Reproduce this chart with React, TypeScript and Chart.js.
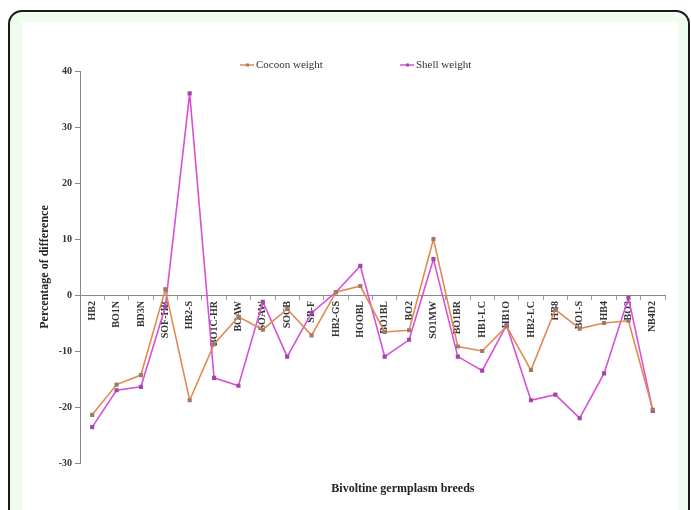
import { useEffect, useRef } from "react";
import { Chart, registerables } from "chart.js";

Chart.register(...registerables);

const categories = [
  "HB2", "BO1N", "BD3N", "SOF-HB", "HB2-S", "BO1C-HR", "BOAW", "SOAW",
  "SOCB", "SB-F", "HB2-GS", "HOOBL", "BO1BL", "BO2", "SO1MW", "BO1BR",
  "HB1-LC", "HB1O", "HB2-LC", "HB8", "BO1-S", "HB4", "BO3", "NB4D2",
];

const cocoonWeight = [
  -21.4, -16, -14.3, 1, -18.8, -8.8, -3.9, -6.2,
  -2.5, -7.2, 0.5, 1.6, -6.6, -6.3, 10, -9.2,
  -10, -5.6, -13.4, -2.6, -6, -5, -4.6, -20.5,
];

const shellWeight = [
  -23.6, -17, -16.4, -2.1, 36, -14.8, -16.2, -1.2,
  -11, -3.2, 0.5, 5.2, -11, -8, 6.4, -11,
  -13.5, -5.4, -18.8, -17.8, -22, -14, -0.5, -20.7,
];

const yMin = -30;
const yMax = 40;
const yStep = 10;

const seriesNames = ["Cocoon weight", "Shell weight"];
const yTitle = "Percentage of difference";
const xTitle = "Bivoltine germplasm breeds";

const SERIF = '"Liberation Serif", "Times New Roman", serif';

const decorPlugin = {
  id: "decor",
  afterDraw(chart: any) {
    const { ctx, chartArea } = chart;
    ctx.save();
    // x-axis title
    ctx.font = `bold 12px ${SERIF}`;
    ctx.fillStyle = "#222";
    ctx.textAlign = "center";
    ctx.textBaseline = "middle";
    ctx.fillText(
      xTitle,
      chartArea.left + (chartArea.right - chartArea.left) * 0.552,
      chartArea.bottom + 26
    );
    // legend
    const offsets = [160, 320];
    chart.data.datasets.forEach((ds: any, i: number) => {
      const x = chartArea.left + offsets[i];
      const y = chartArea.top - 6;
      ctx.strokeStyle = ds.borderColor;
      ctx.lineWidth = 1.5;
      ctx.beginPath();
      ctx.moveTo(x, y);
      ctx.lineTo(x + 14, y);
      ctx.stroke();
      ctx.fillStyle = ds.pointBackgroundColor;
      ctx.fillRect(x + 6, y - 1.5, 3, 3);
      ctx.font = `11px ${SERIF}`;
      ctx.fillStyle = "#333";
      ctx.textAlign = "left";
      ctx.textBaseline = "middle";
      ctx.fillText(ds.label, x + 16, y);
    });
    ctx.restore();
  },
};

export default function App() {
  const canvasRef = useRef<HTMLCanvasElement | null>(null);

  useEffect(() => {
    if (!canvasRef.current) return;
    const chart = new Chart(canvasRef.current, {
      type: "line",
      data: {
        labels: categories,
        datasets: [
          {
            label: seriesNames[0],
            data: cocoonWeight,
            borderColor: "#e08a52",
            backgroundColor: "#e08a52",
            pointBackgroundColor: "#a07a66",
            pointBorderColor: "#a07a66",
            pointStyle: "rect",
            pointRadius: 1.8,
            borderWidth: 1.6,
            tension: 0,
          },
          {
            label: seriesNames[1],
            data: shellWeight,
            borderColor: "#d94fd9",
            backgroundColor: "#d94fd9",
            pointBackgroundColor: "#9c4aa6",
            pointBorderColor: "#9c4aa6",
            pointStyle: "rect",
            pointRadius: 1.8,
            borderWidth: 1.6,
            tension: 0,
          },
        ],
      },
      options: {
        animation: false,
        responsive: true,
        maintainAspectRatio: false,
        layout: { padding: { left: 12, right: 13, top: 49, bottom: 47 } },
        plugins: {
          legend: { display: false },
          tooltip: { enabled: false },
        },
        scales: {
          x: {
            type: "category",
            position: { y: 0 } as any,
            offset: true,
            grid: {
              display: true,
              drawOnChartArea: false,
              drawTicks: true,
              tickLength: 4,
              offset: true,
              color: "#999",
            },
            border: { display: true, color: "#888", width: 1 },
            ticks: {
              autoSkip: false,
              minRotation: 90,
              maxRotation: 90,
              padding: 2,
              color: "#333",
              font: { family: SERIF, size: 10, weight: "bold" },
            },
          },
          y: {
            type: "linear",
            position: "left",
            min: yMin,
            max: yMax,
            afterFit: (scale: any) => {
              scale.width = 46;
            },
            ticks: {
              stepSize: yStep,
              padding: 3,
              color: "#333",
              font: { family: SERIF, size: 10, weight: "bold" },
            },
            grid: {
              display: true,
              drawOnChartArea: false,
              drawTicks: true,
              tickLength: 5,
              color: "#888",
            },
            border: { display: true, color: "#888", width: 1 },
            title: {
              display: true,
              text: yTitle,
              color: "#222",
              padding: { top: 4, bottom: 4 },
              font: { family: SERIF, size: 12, weight: "bold" },
            },
          },
        },
      },
      plugins: [decorPlugin],
    });
    return () => chart.destroy();
  }, []);

  return (
    <div
      style={{
        position: "fixed",
        left: 8,
        top: 10,
        width: 682,
        height: 530,
        boxSizing: "border-box",
        border: "2px solid #1a1a1a",
        borderRadius: 14,
        background: "#effcef",
      }}
    >
      <div
        style={{
          position: "absolute",
          left: 12,
          top: 10,
          width: 656,
          height: 500,
          background: "#ffffff",
        }}
      >
        <div style={{ position: "relative", width: 656, height: 488 }}>
          <canvas ref={canvasRef} />
        </div>
      </div>
    </div>
  );
}
